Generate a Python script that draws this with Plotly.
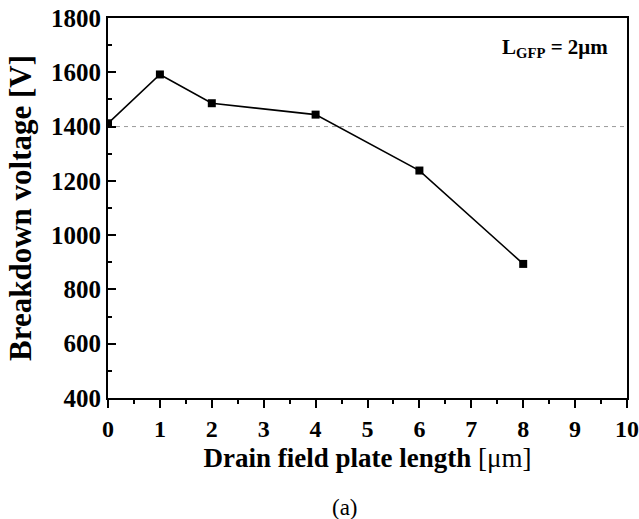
import plotly.graph_objects as go

fp_length = [0, 1, 2, 4, 6, 8]
breakdown_v = [1412, 1592, 1486, 1444, 1238, 894]
ref_level = 1400
x_ticks = list(range(0, 11))
y_ticks = list(range(400, 1801, 200))

FONT = "Liberation Serif"

fig = go.Figure()
fig.add_trace(go.Scatter(
    x=fp_length, y=breakdown_v, mode="lines+markers",
    line=dict(color="black", width=1.6),
    marker=dict(symbol="square", size=8, color="black"),
    showlegend=False,
))

fig.add_shape(type="line", xref="x", yref="y", x0=0, x1=10, y0=ref_level, y1=ref_level,
              line=dict(color="#9a9a9a", width=1, dash="4px,4px"), layer="below")

axis_common = dict(
    showline=True, linecolor="black", linewidth=2, mirror=True,
    showgrid=False, zeroline=False, automargin=False,
    ticklen=8, tickwidth=2, tickcolor="black",
)

fig.update_xaxes(
    range=[0, 10], tickvals=x_ticks, ticks="outside",
    tickfont=dict(family=FONT, size=24, color="black", weight="bold"),
    minor=dict(dtick=0.5, tick0=0, ticks="outside", ticklen=4, tickwidth=1.5, tickcolor="black"),
    title=dict(text="<b>Drain field plate length </b><span style='font-weight:normal'>[μm]</span>",
               font=dict(family=FONT, size=27, color="black"), standoff=7),
    **axis_common,
)
fig.update_yaxes(
    range=[400, 1800], tickvals=y_ticks, ticks="inside",
    tickfont=dict(family=FONT, size=25, color="black", weight="bold"),
    minor=dict(dtick=100, tick0=400, ticks="inside", ticklen=4, tickwidth=1.5, tickcolor="black"),
    title=dict(text="<b>Breakdown voltage [V]</b>",
               font=dict(family=FONT, size=31, color="black"), standoff=10),
    **axis_common,
)

fig.add_annotation(
    x=0.967, y=0.96, xref="paper", yref="paper", xanchor="right", yanchor="top",
    text="<b>L<sub>GFP</sub> = 2μm</b>", showarrow=False,
    font=dict(family=FONT, size=21, color="black"),
)
fig.add_annotation(
    x=0.457, y=-0.25, xref="paper", yref="paper", xanchor="center", yanchor="top",
    text="(a)", showarrow=False,
    font=dict(family=FONT, size=23, color="black"),
)

fig.update_layout(
    width=639, height=519,
    margin=dict(l=108, r=12, t=18, b=121),
    paper_bgcolor="white", plot_bgcolor="white",
)

fig.write_html("out.html")
